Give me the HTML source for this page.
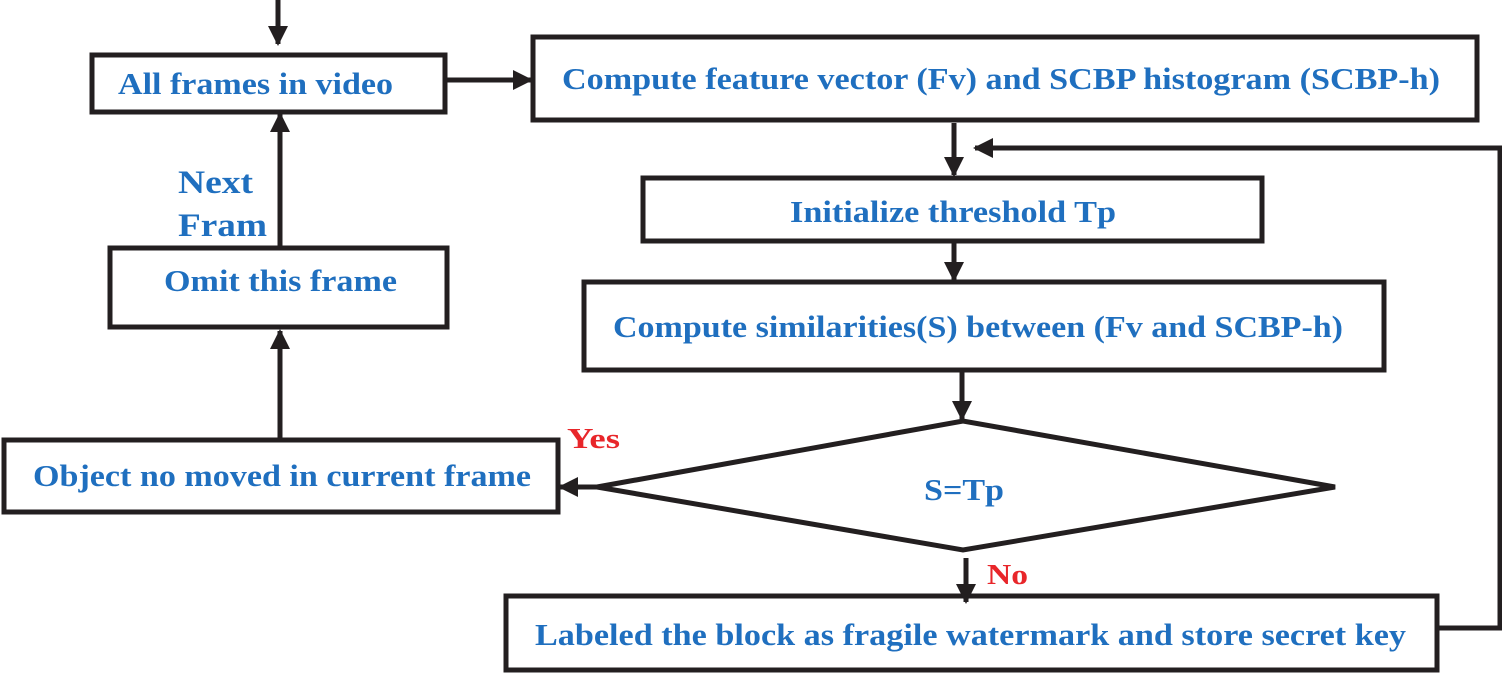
<!DOCTYPE html>
<html><head><style>body{margin:0;background:#fff}svg{display:block}</style></head><body>
<svg width="1502" height="676" xmlns="http://www.w3.org/2000/svg">
<defs><marker id="a" markerWidth="4" markerHeight="4" refX="3.6" refY="2" orient="auto" markerUnits="strokeWidth"><path d="M0,0L4,2L0,4z" fill="#231f20"/></marker></defs>
<g fill="none" stroke="#231f20" stroke-width="5">
<rect x="92" y="55" width="353" height="57"/>
<rect x="533" y="37" width="944" height="83"/>
<rect x="643" y="178" width="619" height="63"/>
<rect x="584" y="282" width="800" height="88"/>
<polygon points="597,487 963,421 1335,487 963,550"/>
<rect x="4" y="440" width="554" height="72"/>
<rect x="110" y="248" width="337" height="79"/>
<rect x="506" y="596" width="931" height="74"/>
<path d="M1437,628H1500V148H975" marker-end="url(#a)"/>
<path d="M278,0V44" marker-end="url(#a)"/>
<path d="M445,80H531" marker-end="url(#a)"/>
<path d="M954,123V175" marker-end="url(#a)"/>
<path d="M954,241V280" marker-end="url(#a)"/>
<path d="M962,372V419" marker-end="url(#a)"/>
<path d="M966,558V602" marker-end="url(#a)"/>
<path d="M280,438V331" marker-end="url(#a)"/>
<path d="M280,246V114" marker-end="url(#a)"/>
<path d="M597,487H560" marker-end="url(#a)"/>
</g>
<g font-family="Liberation Serif, serif" font-weight="bold" font-size="31" fill="#1f6fbf" lengthAdjust="spacingAndGlyphs">
<text x="118" y="94" textLength="275" lengthAdjust="spacingAndGlyphs">All frames in video</text>
<text x="562" y="89" textLength="878" lengthAdjust="spacingAndGlyphs">Compute feature vector (Fv) and SCBP histogram (SCBP-h)</text>
<text x="790" y="222" textLength="326" lengthAdjust="spacingAndGlyphs">Initialize threshold Tp</text>
<text x="613" y="337" textLength="730" lengthAdjust="spacingAndGlyphs">Compute similarities(S) between (Fv and SCBP-h)</text>
<text x="924" y="500" textLength="80" lengthAdjust="spacingAndGlyphs">S=Tp</text>
<text x="33" y="486" textLength="498" lengthAdjust="spacingAndGlyphs">Object no moved in current frame</text>
<text x="164" y="291" textLength="233" lengthAdjust="spacingAndGlyphs">Omit this frame</text>
<text x="535" y="645" textLength="871" lengthAdjust="spacingAndGlyphs">Labeled the block as fragile watermark and store secret key</text>
<text x="178" y="193" font-size="33" textLength="75" lengthAdjust="spacingAndGlyphs">Next</text>
<text x="178" y="236" font-size="33" textLength="89" lengthAdjust="spacingAndGlyphs">Fram</text>
</g>
<g font-family="Liberation Serif, serif" font-weight="bold" font-size="28" fill="#e8262a">
<text x="567" y="448" textLength="53" lengthAdjust="spacingAndGlyphs">Yes</text>
<text x="987" y="584" textLength="41" lengthAdjust="spacingAndGlyphs">No</text>
</g>
</svg>
</body></html>
